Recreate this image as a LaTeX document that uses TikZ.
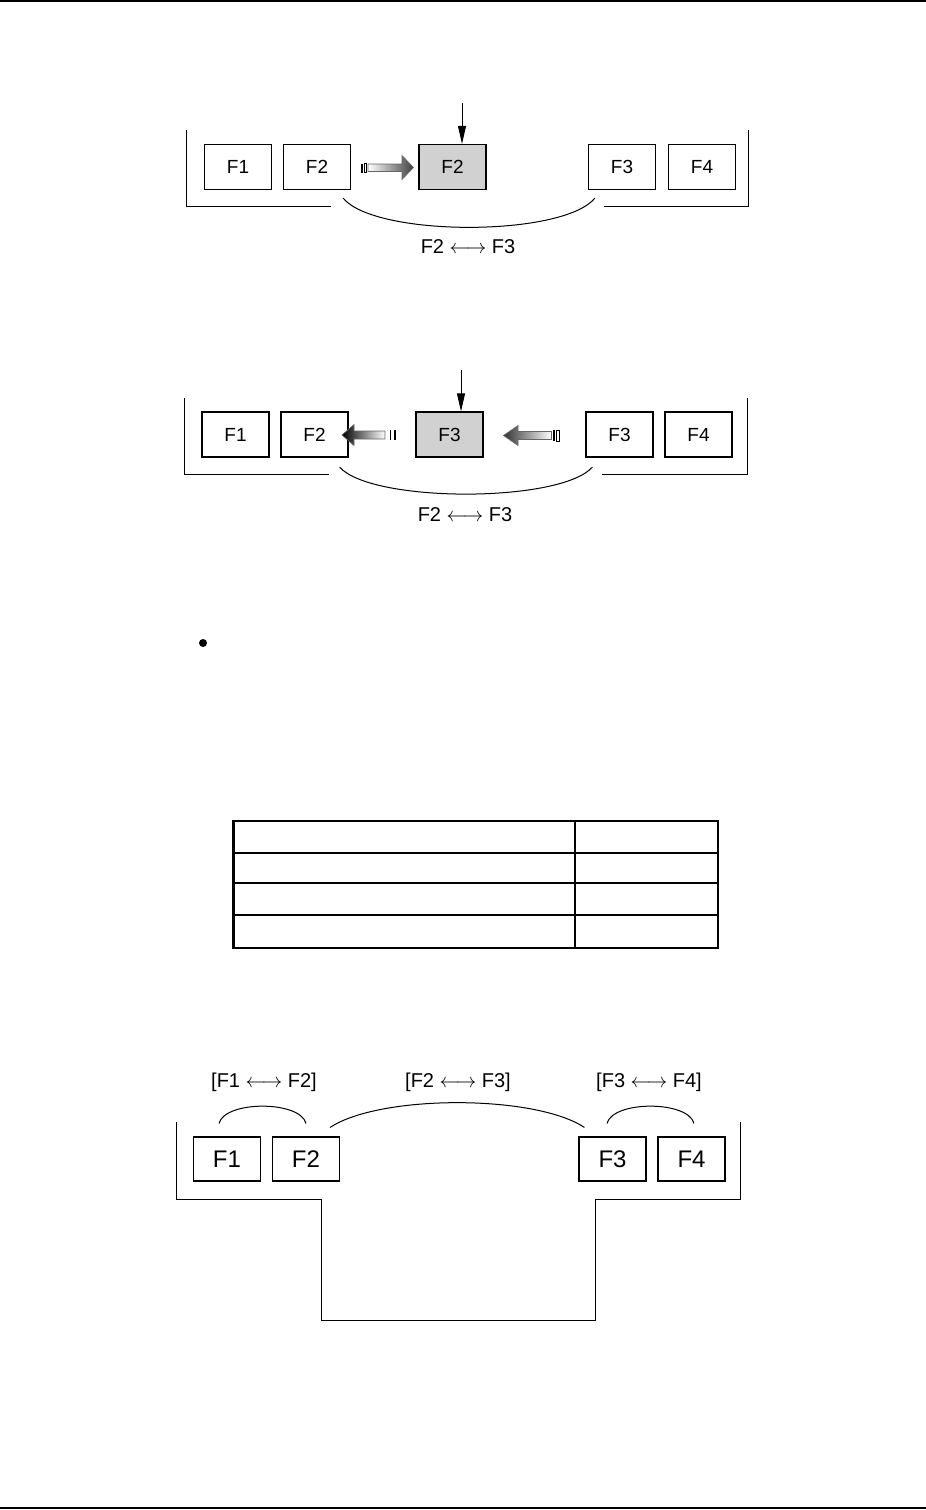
\documentclass[tikz,border=0pt]{standalone}
\usepackage{fontspec}
\setmainfont{Liberation Sans}
\usetikzlibrary{arrows.meta,calc}

\tikzset{
	fbox/.style = {draw, line width = 0.6pt, minimum width = 33.5pt, minimum height = 22.5pt, inner sep = 0pt, font = \fontsize{9.5}{10}\selectfont},
	hotbox/.style = {fbox, fill = black!18},
	bigbox/.style = {fbox, minimum height = 22pt, font = \fontsize{12}{13}\selectfont},
	frame/.style = {line width = 0.5pt},
	swap/.style = {line width = 0.5pt},
	lbl/.style = {font = \fontsize{10}{12}\selectfont},
	feed/.style = {-{Triangle[length = 9pt, width = 4pt]}, line width = 0.5pt},
	slug/.style = {draw = black!60, line width = 0.3pt},
}
\newcommand{\swapsign}{$\leftarrow\!\rightarrow$}

\begin{document}
\begin{tikzpicture} [x = 0.5pt, y = -0.5pt]
	\useasboundingbox (0,0) rectangle (926,1510);
	\draw [line width = 0.75pt] (0,1) -- (926,1);
	\draw [line width = 1.3pt] (0,1508) -- (926,1508);

	% first row: F2 copied into the gap
	\node [fbox] (a1) at (238,167) {F1};
	\node [fbox] (a2) at (317,167) {F2};
	\node [hotbox] (ah) at (452.5,167) {F2};
	\node [fbox] (a3) at (622,167) {F3};
	\node [fbox] (a4) at (702,167) {F4};
	\draw [frame] (186,130) -- (186,206.5) -- (331,206.5);
	\draw [frame] (604,206.5) -- (748,206.5) -- (748,130);
	\draw [feed] (462,103) coordinate (ain) -- (ain |- ah.north);
	\draw [swap] ($(a2.south east)+(-8,8)$) .. controls +(32,39) and +(-32,39) .. ($(a3.south west)+(7,8)$);
	\node [lbl] (alab) at (468,246.5) {F2 \swapsign{} F3};
	\shadedraw [slug, left color = white, right color = black!75] (368,164) -- (402,164) -- (402,155.5) -- (413.5,167.5) -- (402,179.5) -- (402,171.5) -- (368,171.5) -- cycle;
	\fill (360.5,163.5) rectangle (362.5,172.5);
	\draw [line width = 0.4pt] (364,163.5) rectangle (366,172.5);

	% second row: F3 moved into the gap
	\node [fbox] (b1) at (235.5,434.5) {F1};
	\node [fbox] (b2) at (314.5,434.5) {F2};
	\node [hotbox] (bh) at (449.5,434.5) {F3};
	\node [fbox] (b3) at (619.5,434.5) {F3};
	\node [fbox] (b4) at (698.5,434.5) {F4};
	\draw [frame] (184.5,398) -- (184.5,474) -- (329,474);
	\draw [frame] (602,474) -- (747,474) -- (747,398);
	\draw [feed] (461,370) coordinate (bin) -- (bin |- bh.north);
	\draw [swap] ($(b2.south east)+(-9,9.5)$) .. controls +(32,36) and +(-32,36) .. ($(b3.south west)+(7,9.5)$);
	\node [lbl] (blab) at (465,515) {F2 \swapsign{} F3};
	\shadedraw [slug, left color = black, right color = white] (342,435) -- (354,424.5) -- (354,431) -- (385,431) -- (385,439) -- (354,439) -- (354,445.5) -- cycle;
	\fill (389.5,430) rectangle (391,440);
	\fill (394,430) rectangle (395.5,440);
	\shadedraw [slug, left color = black!80, right color = white] (503.5,435.5) -- (518,425.5) -- (518,431.5) -- (551.5,431.5) -- (551.5,439.5) -- (518,439.5) -- (518,445.5) -- cycle;
	\fill (553,430) rectangle (555,441);
	\draw [line width = 0.4pt] (556.5,430) rectangle (559.5,441);

	% bullet and table
	\fill (203,643) circle (2pt);
	\draw [line width = 1.4pt] (233.5,821) rectangle (718,948);
	\draw [line width = 1pt] (575,821) -- (575,948);
	\draw [line width = 1.2pt] (233.5,853) -- (718,853);
	\draw [line width = 0.6pt] (233.5,883) -- (718,883);
	\draw [line width = 1pt] (233.5,915) -- (718,915);

	% third row: all pairs
	\node [bigbox] (c1) at (227,1159) {F1};
	\node [bigbox] (c2) at (306,1159) {F2};
	\node [bigbox] (c3) at (612.5,1159) {F3};
	\node [bigbox] (c4) at (691.5,1159) {F4};
	\draw [frame] (176,1122) -- (176,1199) -- (321,1199) -- (321,1320) -- (595,1320) -- (595,1199) -- (740,1199) -- (740,1122);
	\draw [swap] ($(c1.north)+(-8,-13)$) .. controls +(6,-23) and +(-6,-23) .. ($(c2.north)+(0,-13)$);
	\draw [swap] ($(c2.north east)+(-10,-9)$) .. controls +(50,-33) and +(-50,-33) .. ($(c3.north west)+(6,-9)$);
	\draw [swap] ($(c3.north)+(-5.5,-13)$) .. controls +(6,-23) and +(-6,-23) .. ($(c4.north)+(2.5,-13)$);
	\node [lbl] (c12) at (264,1082) {[F1 \swapsign{} F2]};
	\node [lbl] (c23) at (458,1082) {[F2 \swapsign{} F3]};
	\node [lbl] (c34) at (649,1082) {[F3 \swapsign{} F4]};
\end{tikzpicture}
\end{document}
